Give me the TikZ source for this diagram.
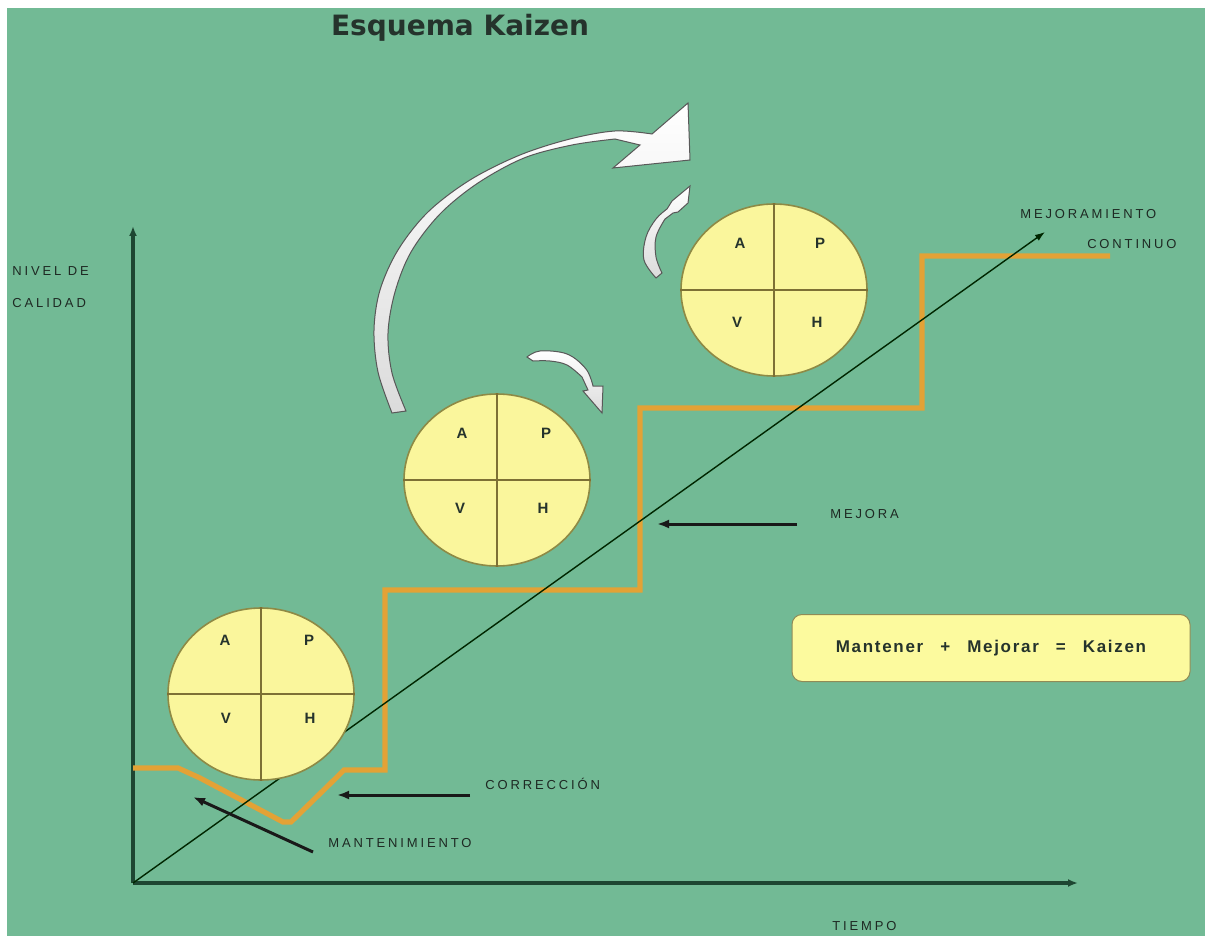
\documentclass[tikz,border=0pt]{standalone}
\usepackage{fontspec}
\setmainfont{Liberation Sans}
\newfontfamily\titlefont{DejaVu Sans}
\newfontfamily\labfont[LetterSpace=22]{Liberation Sans}
\newfontfamily\kzfont[LetterSpace=10]{Liberation Sans}
\usetikzlibrary{arrows.meta,shapes.geometric,calc}
\definecolor{bg}{HTML}{72BA95}
\definecolor{axisc}{HTML}{1E4632}
\definecolor{stair}{HTML}{E3A236}
\definecolor{cyel}{HTML}{FAF69C}
\definecolor{cedge}{HTML}{8E8A45}
\definecolor{cline}{HTML}{7D7035}
\definecolor{txt}{HTML}{25332C}
\definecolor{boxy}{HTML}{FCFA9E}
\tikzset{
  pdca/.style={ellipse, fill=cyel, draw=cedge, line width=0.8pt, minimum width=93pt, minimum height=86pt, inner sep=0pt},
  crossln/.style={draw=cline, line width=1pt},
  let/.style={font=\bfseries\fontsize{7.5}{9}\selectfont, text=txt, inner sep=0pt},
  lab/.style={font=\labfont\fontsize{6.5}{8}\selectfont, text=txt!80!black, inner sep=0pt},
  axisln/.style={draw=axisc, line width=1.6pt, -{Latex[length=5pt,width=4pt]}},
  blackarr/.style={draw=black!90, line width=1.5pt, -{Latex[length=6pt,width=4.5pt]}},
  whitearr/.style={top color=white, bottom color=gray!28, draw=gray!70!black, line width=0.5pt},
}
\begin{document}
\begin{tikzpicture}[x=0.5pt,y=-0.5pt]
\useasboundingbox (0,0) rectangle (1205,936);
\fill[white] (0,0) rectangle (1205,936);
\fill[bg] (7,8) rectangle (1205,936);

% title
\node[font=\titlefont\bfseries\fontsize{14}{16}\selectfont, text=txt] (title) at (460,28) {Esquema Kaizen};

% axes
\coordinate (O) at (133,883);
\coordinate (ytip) at (133,226);
\coordinate (xtip) at (1078,883);
\coordinate (dtip) at (1045,232);
\draw[axisln] (O) -- (ytip);
\draw[axisln] (O) -- (xtip);

% staircase
\draw[stair, line width=2.6pt, line join=miter] (133,768) -- (178,768) -- (200,778) -- (283,822) -- (291,822) -- (337,777) -- (344,770) -- (385,770) -- (385,590) -- (640,590) -- (640,408) -- (922,408) -- (922,256) -- (1110,256);

% diagonal
\draw[draw=black!85!green, line width=0.7pt, -{Latex[length=5pt,width=3.5pt]}] (O) -- (dtip);

% circles
\node[pdca] (c1) at (261,694) {};
\node[pdca] (c2) at (497,480) {};
\node[pdca] (c3) at (774,290) {};
\foreach \c in {c1,c2,c3}{
  \draw[crossln] (\c.north) -- (\c.south);
  \draw[crossln] (\c.west) -- (\c.east);
}
\node[let] (a1) at (225,640) {A};
\node[let] (p1) at (309,640) {P};
\node[let] (v1) at (226,718) {V};
\node[let] (h1) at (310,718) {H};
\node[let] (a2) at (462,433) {A};
\node[let] (p2) at (546,433) {P};
\node[let] (v2) at (460,508) {V};
\node[let] (h2) at (543,508) {H};
\node[let] (a3) at (740,243) {A};
\node[let] (p3) at (820,243) {P};
\node[let] (v3) at (737,322) {V};
\node[let] (h3) at (817,322) {H};

% big curved white arrow
\filldraw[whitearr]
  plot[smooth, tension=0.55] coordinates {(392,413) (378,372) (374,330) (380,290) (398,250) (428,212) (470,180) (520,155) (570,139) (615,131) (652,134)}
  -- (688,103) -- (690,160) -- (613,168) -- (640,145)
  -- plot[smooth, tension=0.55] coordinates {(615,139) (572,145) (524,158) (478,183) (440,214) (411,252) (395,292) (388,333) (392,373) (406,411)}
  -- cycle;

% small arrow near circle 2
\filldraw[whitearr]
  plot[smooth, tension=0.6] coordinates {(527,357) (540,351) (567,354) (586,369) (593,386)}
  -- (603,386) -- (602,413) -- (583,391) -- (588,390)
  -- plot[smooth, tension=0.6] coordinates {(582,377) (567,365) (550,361) (533,361)}
  -- cycle;

% small arrow near circle 3
\filldraw[whitearr]
  plot[smooth, tension=0.6] coordinates {(656,278) (644,260) (646,237) (656,219) (667,209)}
  -- (672,201) -- (690,186) -- (688,203) -- (678,212) -- (673,213)
  -- plot[smooth, tension=0.6] coordinates {(665,219) (656,237) (656,257) (662,273)}
  -- cycle;

% labels
\node[lab, anchor=west] (nivel) at (12,271) {NIVEL DE};
\node[lab, anchor=west] (calidad) at (12,303) {CALIDAD};
\node[lab, anchor=west] (mejoramiento) at (1020,214) {MEJORAMIENTO};
\node[lab, anchor=east] (continuo) at (1177,244) {CONTINUO};
\node[lab, anchor=west] (mejora) at (830,514) {MEJORA};
\node[lab, anchor=west] (correccion) at (485,784) {CORRECCIÓN};
\node[lab, anchor=west] (mantenimiento) at (328,843) {MANTENIMIENTO};
\node[lab, anchor=west] (tiempo) at (832,926) {TIEMPO};

% black arrows
\coordinate (mejS) at (797,524);
\coordinate (mejE) at (657,524);
\coordinate (corS) at (470,795);
\coordinate (corE) at (337,795);
\coordinate (manS) at (313,852);
\coordinate (manE) at (193,797);
\draw[blackarr] (mejS) -- (mejE);
\draw[blackarr] (corS) -- (corE);
\draw[blackarr] (manS) -- (manE);

% kaizen box
\node[fill=boxy, draw=gray!60!olive, line width=0.5pt, rounded corners=5pt, minimum width=199pt, minimum height=33.5pt, inner sep=0pt,
      font=\kzfont\bfseries\fontsize{8.5}{10}\selectfont, text=txt] (kz) at (991,648)
  {Mantener\hspace{8.5pt}+\hspace{8.5pt}Mejorar\hspace{8.5pt}=\hspace{8.5pt}Kaizen};
\end{tikzpicture}
\end{document}
